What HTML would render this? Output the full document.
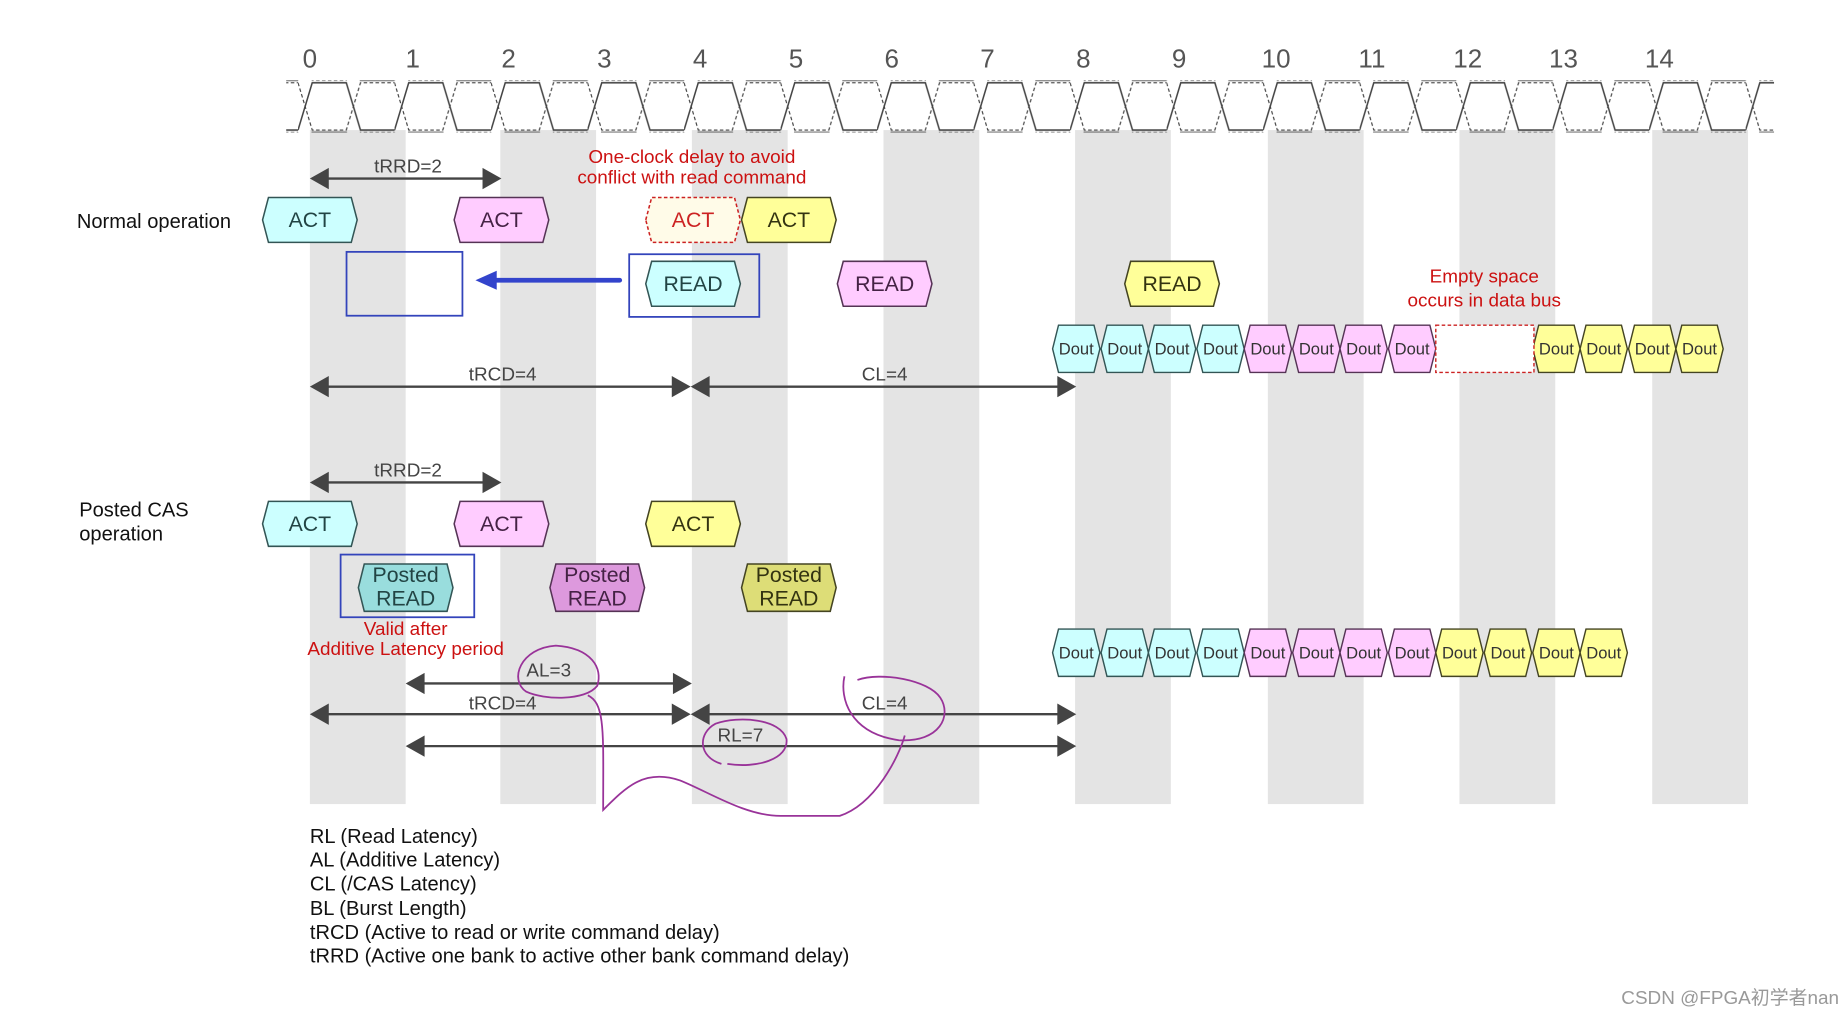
<!DOCTYPE html>
<html><head><meta charset="utf-8"><style>
html,body{margin:0;padding:0;background:#fff;}
svg{display:block;}
text{font-family:"Liberation Sans Narrow","Liberation Sans","Noto Sans CJK SC",sans-serif;}
</style></head><body>
<svg width="1845" height="1011" viewBox="0 0 1560 855" preserveAspectRatio="none" xmlns="http://www.w3.org/2000/svg">
<defs>
<pattern id="clk" patternUnits="userSpaceOnUse" x="252" y="69" width="81.6" height="42">
<polyline points="0,41 12,1 40.8,1 52.8,41 81.6,41" fill="none" stroke="#444" stroke-width="1.3"/>
<polyline points="0,1 12,41 40.8,41 52.8,1 81.6,1" fill="none" stroke="#444" stroke-width="1" stroke-dasharray="3,2"/>
</pattern>
<polygon id="hx" points="-40,0 -35,-19 35,-19 40,0 35,19 -35,19"/>
<polygon id="hp" points="-40,0 -35,-20 35,-20 40,0 35,20 -35,20"/>
<polygon id="hd" points="-20,0 -15,-20 15,-20 20,0 15,20 -15,20"/>
</defs>
<rect width="1560" height="855" fill="#fff"/>
<!-- gray bands -->
<g fill="#e4e4e4">
<rect x="262" y="110" width="81" height="570"/><rect x="423" y="110" width="81" height="570"/>
<rect x="585" y="110" width="81" height="570"/><rect x="747" y="110" width="81" height="570"/>
<rect x="909" y="110" width="81" height="570"/><rect x="1072" y="110" width="81" height="570"/>
<rect x="1234" y="110" width="81" height="570"/><rect x="1397" y="110" width="81" height="570"/>
</g>
<!-- clock -->
<rect x="242" y="68" width="1258" height="44" fill="url(#clk)"/>
<g font-size="22" fill="#555" text-anchor="middle">
<text x="262" y="57">0</text><text x="349" y="57">1</text><text x="430" y="57">2</text><text x="511" y="57">3</text><text x="592" y="57">4</text><text x="673" y="57">5</text><text x="754" y="57">6</text><text x="835" y="57">7</text><text x="916" y="57">8</text><text x="997" y="57">9</text><text x="1079" y="57">10</text><text x="1160" y="57">11</text><text x="1241" y="57">12</text><text x="1322" y="57">13</text><text x="1403" y="57">14</text>
</g>
<!-- labels -->
<g font-size="17" fill="#111">
<text x="65" y="193">Normal operation</text>
<text x="67" y="437">Posted CAS</text><text x="67" y="457">operation</text>
</g>
<g font-size="16" fill="#cc1111" text-anchor="middle">
<text x="585" y="138">One-clock delay to avoid</text><text x="585" y="155">conflict with read command</text>
<text x="1255" y="239">Empty space</text><text x="1255" y="259">occurs in data bus</text>
<text x="343" y="537">Valid after</text><text x="343" y="554">Additive Latency period</text>
</g>
<!-- arrows -->
<g stroke="#444" stroke-width="2">
<line x1="270" y1="151" x2="415" y2="151"/>
<line x1="270" y1="327" x2="578" y2="327"/><line x1="592" y1="327" x2="902" y2="327"/>
<line x1="270" y1="408" x2="415" y2="408"/>
<line x1="350" y1="578" x2="578" y2="578"/>
<line x1="270" y1="604" x2="578" y2="604"/><line x1="592" y1="604" x2="902" y2="604"/>
<line x1="350" y1="631" x2="902" y2="631"/>
</g>
<g fill="#444">
<polygon points="262,151 278,142 278,160"/><polygon points="424,151 408,142 408,160"/>
<polygon points="262,327 278,318 278,336"/><polygon points="584,327 568,318 568,336"/>
<polygon points="584,327 600,318 600,336"/><polygon points="910,327 894,318 894,336"/>
<polygon points="262,408 278,399 278,417"/><polygon points="424,408 408,399 408,417"/>
<polygon points="343,578 359,569 359,587"/><polygon points="585,578 569,569 569,587"/>
<polygon points="262,604 278,595 278,613"/><polygon points="584,604 568,595 568,613"/>
<polygon points="584,604 600,595 600,613"/><polygon points="910,604 894,595 894,613"/>
<polygon points="343,631 359,622 359,640"/><polygon points="910,631 894,622 894,640"/>
</g>
<g font-size="16" fill="#444" text-anchor="middle">
<text x="345" y="146">tRRD=2</text><text x="425" y="322">tRCD=4</text><text x="748" y="322">CL=4</text>
<text x="345" y="403">tRRD=2</text><text x="464" y="572">AL=3</text><text x="425" y="600">tRCD=4</text><text x="748" y="600">CL=4</text><text x="626" y="627">RL=7</text>
</g>
<!-- normal ACT/READ -->
<g stroke="#335555" stroke-width="1.3">
<use href="#hx" x="262" y="186" fill="#ccffff"/>
<use href="#hx" x="424" y="186" fill="#ffccff" stroke="#553355"/>
<use href="#hx" x="586" y="186" fill="#fffbe8" stroke="#cc2222" stroke-dasharray="3,2"/>
<use href="#hx" x="667" y="186" fill="#ffff99" stroke="#444422"/>
<use href="#hx" x="586" y="240" fill="#ccffff"/>
<use href="#hx" x="748" y="240" fill="#ffccff" stroke="#553355"/>
<use href="#hx" x="991" y="240" fill="#ffff99" stroke="#444422"/>
<use href="#hx" x="262" y="443" fill="#ccffff"/>
<use href="#hx" x="424" y="443" fill="#ffccff" stroke="#553355"/>
<use href="#hx" x="586" y="443" fill="#ffff99" stroke="#444422"/>
<use href="#hp" x="343" y="497" fill="#99dddd"/>
<use href="#hp" x="505" y="497" fill="#dd99dd" stroke="#553355"/>
<use href="#hp" x="667" y="497" fill="#dddd77" stroke="#444422"/>
</g>
<g font-size="18" text-anchor="middle">
<text x="262" y="192" fill="#224444">ACT</text><text x="424" y="192" fill="#442244">ACT</text>
<text x="586" y="192" fill="#cc2222">ACT</text><text x="667" y="192" fill="#333311">ACT</text>
<text x="586" y="246" fill="#224444">READ</text><text x="748" y="246" fill="#442244">READ</text><text x="991" y="246" fill="#333311">READ</text>
<text x="262" y="449" fill="#224444">ACT</text><text x="424" y="449" fill="#442244">ACT</text><text x="586" y="449" fill="#333311">ACT</text>
<text x="343" y="492" fill="#224444">Posted</text><text x="343" y="512" fill="#224444">READ</text>
<text x="505" y="492" fill="#442244">Posted</text><text x="505" y="512" fill="#442244">READ</text>
<text x="667" y="492" fill="#333311">Posted</text><text x="667" y="512" fill="#333311">READ</text>
</g>
<!-- blue boxes -->
<g fill="none" stroke="#3344bb" stroke-width="1.5">
<rect x="293" y="213" width="98" height="54"/>
<rect x="532" y="215" width="110" height="53"/>
<rect x="288" y="469" width="113" height="53"/>
</g>
<line x1="524" y1="237" x2="418" y2="237" stroke="#3344cc" stroke-width="4" stroke-linecap="round"/>
<polygon points="402,237 420,229 420,245" fill="#3344cc"/>
<!-- Dout row 1 -->
<g stroke="#335555" stroke-width="1.2">
<use href="#hd" x="910" y="295" fill="#ccffff"/><use href="#hd" x="951" y="295" fill="#ccffff"/><use href="#hd" x="991" y="295" fill="#ccffff"/><use href="#hd" x="1032" y="295" fill="#ccffff"/>
<use href="#hd" x="1072" y="295" fill="#ffccff" stroke="#553355"/><use href="#hd" x="1113" y="295" fill="#ffccff" stroke="#553355"/><use href="#hd" x="1153" y="295" fill="#ffccff" stroke="#553355"/><use href="#hd" x="1194" y="295" fill="#ffccff" stroke="#553355"/>
<use href="#hd" x="1316" y="295" fill="#ffff99" stroke="#444422"/><use href="#hd" x="1356" y="295" fill="#ffff99" stroke="#444422"/><use href="#hd" x="1397" y="295" fill="#ffff99" stroke="#444422"/><use href="#hd" x="1437" y="295" fill="#ffff99" stroke="#444422"/>
<use href="#hd" x="910" y="552" fill="#ccffff"/><use href="#hd" x="951" y="552" fill="#ccffff"/><use href="#hd" x="991" y="552" fill="#ccffff"/><use href="#hd" x="1032" y="552" fill="#ccffff"/>
<use href="#hd" x="1072" y="552" fill="#ffccff" stroke="#553355"/><use href="#hd" x="1113" y="552" fill="#ffccff" stroke="#553355"/><use href="#hd" x="1153" y="552" fill="#ffccff" stroke="#553355"/><use href="#hd" x="1194" y="552" fill="#ffccff" stroke="#553355"/>
<use href="#hd" x="1234" y="552" fill="#ffff99" stroke="#444422"/><use href="#hd" x="1275" y="552" fill="#ffff99" stroke="#444422"/><use href="#hd" x="1316" y="552" fill="#ffff99" stroke="#444422"/><use href="#hd" x="1356" y="552" fill="#ffff99" stroke="#444422"/>
</g>
<rect x="1214" y="275" width="83" height="40" fill="#fff" stroke="#cc2222" stroke-width="1.2" stroke-dasharray="3,2"/>
<g font-size="14" text-anchor="middle" fill="#333">
<text x="910" y="300">Dout</text><text x="951" y="300">Dout</text><text x="991" y="300">Dout</text><text x="1032" y="300">Dout</text><text x="1072" y="300">Dout</text><text x="1113" y="300">Dout</text><text x="1153" y="300">Dout</text><text x="1194" y="300">Dout</text><text x="1316" y="300">Dout</text><text x="1356" y="300">Dout</text><text x="1397" y="300">Dout</text><text x="1437" y="300">Dout</text>
<text x="910" y="557">Dout</text><text x="951" y="557">Dout</text><text x="991" y="557">Dout</text><text x="1032" y="557">Dout</text><text x="1072" y="557">Dout</text><text x="1113" y="557">Dout</text><text x="1153" y="557">Dout</text><text x="1194" y="557">Dout</text><text x="1234" y="557">Dout</text><text x="1275" y="557">Dout</text><text x="1316" y="557">Dout</text><text x="1356" y="557">Dout</text>
</g>
<!-- hand drawing -->
<g fill="none" stroke="#993399" stroke-width="1.5">
<path d="M470,546 C440,548 430,575 445,585 C460,592 495,593 505,580 C510,565 500,548 470,546 Z"/>
<path d="M497,588 C512,595 510,620 510,685 C530,665 545,650 575,660 C600,670 630,690 660,690 L710,690 C740,680 760,640 765,622"/>
<path d="M714,572 C710,590 718,620 760,626 C795,628 805,605 795,590 C785,575 745,568 725,575"/>
<path d="M610,646 C590,640 590,620 605,612 C625,605 660,608 665,625 C667,642 640,650 615,646"/>
</g>
<!-- legend -->
<g font-size="17" fill="#111">
<text x="262" y="713">RL (Read Latency)</text>
<text x="262" y="733">AL (Additive Latency)</text>
<text x="262" y="753">CL (/CAS Latency)</text>
<text x="262" y="774">BL (Burst Length)</text>
<text x="262" y="794">tRCD (Active to read or write command delay)</text>
<text x="262" y="814">tRRD (Active one bank to active other bank command delay)</text>
</g>
<text x="1555" y="849" font-size="16" fill="#999" text-anchor="end">CSDN @FPGA初学者nan</text>
</svg>
</body></html>
